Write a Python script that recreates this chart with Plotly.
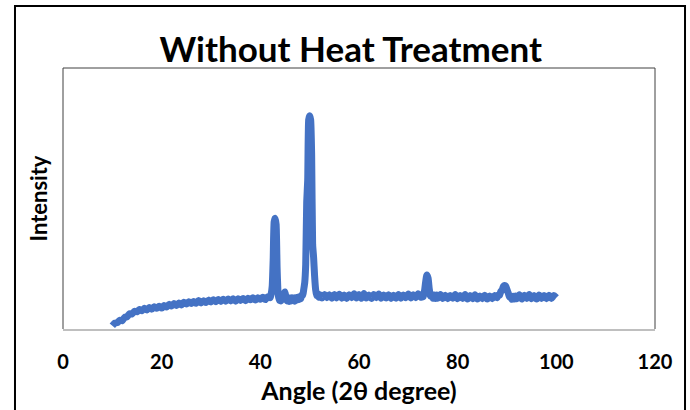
import plotly.graph_objects as go

# Angle (2θ) values and intensities, by segment
angle_a = [10.0, 10.5, 11.0, 11.5, 12.0, 12.5, 13.0, 13.5, 14.0, 14.5, 15.0, 15.5, 16.0, 16.5,
           17.0, 17.5, 18.0, 18.5, 19.0, 19.5, 20.0, 20.5, 21.0, 21.5, 22.0, 22.5, 23.0, 23.5,
           24.0, 24.5, 25.0, 25.5, 26.0, 26.5, 27.0, 27.5, 28.0, 28.5, 29.0, 29.5, 30.0, 30.5,
           31.0, 31.5, 32.0, 32.5, 33.0, 33.5, 34.0, 34.5, 35.0, 35.5, 36.0, 36.5, 37.0, 37.5,
           38.0, 38.5, 39.0, 39.5, 40.0, 40.5, 41.0, 41.5]
int_a = [12, 22, 24, 33, 31, 44, 46, 58, 57, 67, 65, 74, 69, 78,
         72, 81, 75, 84, 78, 86, 79, 89, 83, 93, 87, 96, 89, 98,
         91, 101, 94, 103, 96, 104, 97, 108, 98, 107, 100, 109, 102, 110,
         103, 111, 104, 112, 105, 113, 106, 114, 105, 114, 108, 115, 107, 116,
         110, 118, 109, 118, 112, 120, 111, 121]

angle_b = [42.0, 42.2, 42.4, 42.6, 42.8, 43.0, 43.2, 43.4, 43.6, 43.8, 44.0, 44.2, 44.4, 44.6,
           44.8, 45.0, 45.2, 45.4, 45.6, 45.8, 46.0, 46.2, 46.4, 46.6, 46.8, 47.0, 47.2, 47.4,
           47.6, 47.8, 48.0, 48.2, 48.4, 48.6, 48.8, 49.0, 49.2, 49.4, 49.6, 49.8, 50.0, 50.2,
           50.4, 50.6, 50.8, 51.0, 51.2, 51.4, 51.6, 51.8, 52.0]
int_b = [118, 132, 160, 260, 405, 418, 395, 230, 135, 108, 116, 106, 118, 114,
         134, 140, 118, 106, 118, 104, 116, 106, 118, 108, 117, 105, 118, 109,
         120, 111, 122, 114, 128, 128, 150, 175, 245, 480, 560, 790, 805, 790,
         660, 320, 270, 200, 150, 126, 134, 120, 130]

angle_c = [52.5, 53.0, 53.5, 54.0, 54.5, 55.0, 55.5, 56.0, 56.5, 57.0, 57.5, 58.0, 58.5, 59.0,
           59.5, 60.0, 60.5, 61.0, 61.5, 62.0, 62.5, 63.0, 63.5, 64.0, 64.5, 65.0, 65.5, 66.0,
           66.5, 67.0, 67.5, 68.0, 68.5, 69.0, 69.5, 70.0, 70.5, 71.0, 71.5, 72.0, 72.5]
int_c = [117, 130, 118, 129, 116, 130, 117, 131, 116, 128, 115, 129, 118, 133,
         117, 130, 116, 134, 117, 128, 115, 130, 118, 132, 116, 128, 117, 129,
         115, 127, 116, 130, 116, 128, 118, 132, 117, 129, 118, 133, 120]

angle_d = [73.0, 73.25, 73.5, 73.75, 74.0, 74.25, 74.5, 74.75, 75.0, 75.25, 75.5, 75.75, 76.0]
int_d = [122, 140, 176, 204, 192, 150, 124, 130, 116, 128, 115, 128, 116]

angle_e = [76.5, 77.0, 77.5, 78.0, 78.5, 79.0, 79.5, 80.0, 80.5, 81.0, 81.5, 82.0, 82.5, 83.0,
           83.5, 84.0, 84.5, 85.0, 85.5, 86.0, 86.5, 87.0, 87.5]
int_e = [130, 115, 127, 114, 126, 116, 130, 114, 126, 115, 130, 113, 126, 114,
         129, 113, 125, 114, 127, 113, 125, 114, 126]

angle_f = [88.0, 88.25, 88.5, 88.75, 89.0, 89.25, 89.5, 89.75, 90.0, 90.25, 90.5, 90.75, 91.0,
           91.25, 91.5, 91.75, 92.0]
int_f = [118, 128, 128, 142, 146, 160, 164, 162, 148, 136, 120, 124, 112,
         124, 113, 125, 114]

angle_g = [92.5, 93.0, 93.5, 94.0, 94.5, 95.0, 95.5, 96.0, 96.5, 97.0, 97.5, 98.0, 98.5, 99.0,
           99.5, 100.0]
int_g = [129, 113, 127, 115, 130, 114, 126, 113, 128, 115, 126, 114, 127, 115, 126, 118]

angle = angle_a + angle_b + angle_c + angle_d + angle_e + angle_f + angle_g
intensity = int_a + int_b + int_c + int_d + int_e + int_f + int_g

x_ticks = [0, 20, 40, 60, 80, 100, 120]

FONT = "Lato"

fig = go.Figure()
fig.add_trace(go.Scatter(
    x=angle, y=intensity, mode="lines",
    line=dict(color="#4472C4", width=7, shape="spline", smoothing=0.5),
    hoverinfo="skip", showlegend=False,
))

fig.update_layout(
    width=690, height=410,
    margin=dict(l=63, r=35, t=68, b=81),
    paper_bgcolor="white", plot_bgcolor="white",
    title=dict(text="<b>Without Heat Treatment</b>", x=0.486, xanchor="center",
               xref="paper", y=0.878, yanchor="middle",
               font=dict(family=FONT, size=35, color="black")),
    xaxis=dict(range=[0, 120], tickvals=x_ticks, ticktext=[f"<b>{v}</b>" for v in x_ticks],
               showgrid=False, zeroline=False, showline=True, linecolor="#BFBFBF", linewidth=2,
               ticks="", ticklabelstandoff=14, automargin=False,
               tickfont=dict(family=FONT, size=20, color="black"),
               title=dict(text="<b>Angle (2θ degree)</b>", standoff=10,
                          font=dict(family=FONT, size=25, color="black"))),
    yaxis=dict(range=[0, 985], showticklabels=False, showgrid=False, zeroline=False,
               showline=False, ticks="", automargin=False,
               title=dict(text="<b>Intensity</b>", standoff=8,
                          font=dict(family=FONT, size=22, color="black"))),
    shapes=[
        # plot area frame (left, top, right)
        dict(type="line", xref="paper", yref="paper", x0=0, x1=0, y0=0, y1=1,
             line=dict(color="#404040", width=1)),
        dict(type="line", xref="paper", yref="paper", x0=0, x1=1, y0=1, y1=1,
             line=dict(color="#404040", width=1)),
        dict(type="line", xref="paper", yref="paper", x0=1, x1=1, y0=0, y1=1,
             line=dict(color="#404040", width=1)),
        # outer border of the image
        dict(type="rect", xref="paper", yref="paper", x0=-0.0811, x1=1.0507, y0=-0.33, y1=1.2375,
             line=dict(color="black", width=2)),
    ],
)

fig.write_html("out.html", config={"displayModeBar": False},
               post_script="document.body.style.margin='0';document.body.style.overflow='hidden';")
